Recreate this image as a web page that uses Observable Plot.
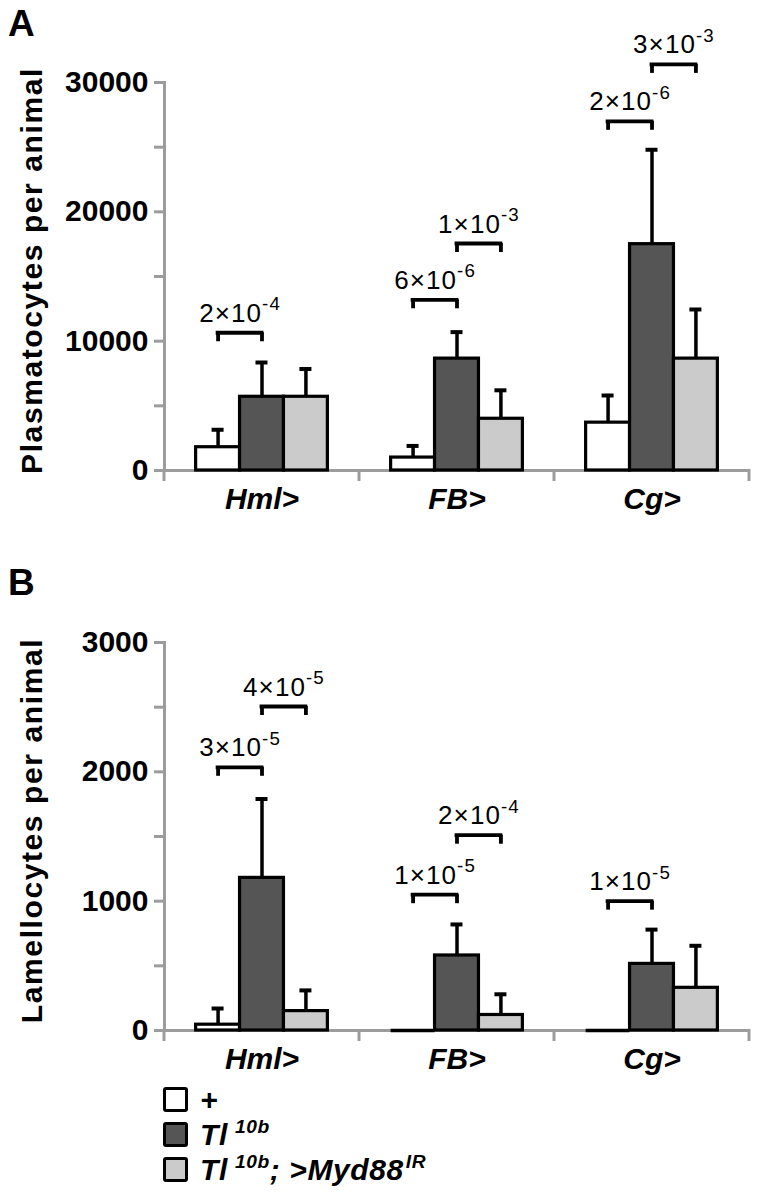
<!DOCTYPE html>
<html>
<head>
<meta charset="utf-8">
<script src="https://cdn.jsdelivr.net/npm/d3@7"></script>
<script src="https://cdn.jsdelivr.net/npm/@observablehq/plot@0.6"></script>
<style>
  body { margin: 0; background: #fff; }
  #wrap { position: relative; width: 757px; height: 1195px; font-family: "Liberation Sans", Arial, Helvetica, sans-serif; color: #000; background: #fff; overflow: hidden; }
  .plabel { position: absolute; left: 8px; font-weight: bold; font-size: 37px; line-height: 1; }
  .chart { position: absolute; left: 0; }
  #legend { position: absolute; left: 163px; top: 1082px; }
  .row { display: flex; align-items: center; height: 35px; }
  .sw { width: 19px; height: 19px; border: 3px solid #000; border-radius: 3px; flex: none; }
  .lab { margin-left: 12px; font-size: 30px; font-weight: bold; font-style: italic; line-height: 1; white-space: nowrap; letter-spacing: 0.6px; }
  .lab sup { font-size: 0.64em; vertical-align: baseline; position: relative; top: -0.6em; margin-left: 7px; }
  .lab sup.tight { margin-left: 2px; }
</style>
</head>
<body>
<div id="wrap">
  <div class="plabel" style="top:5px">A</div>
  <div class="plabel" style="top:564px">B</div>
  <div id="chartA" class="chart" style="top:0px"></div>
  <div id="chartB" class="chart" style="top:560px"></div>
  <div id="legend"></div>
</div>
<script>
// ---------- data ----------
const categories = ["Hml>", "FB>", "Cg>"];
const genotypes = ["+", "Tl10b", "Tl10b; >Myd88IR"];
const genotypeColors = ["#ffffff", "#555555", "#cbcbcb"];
const legendLabels = ["+", "Tl<sup>10b</sup>", "Tl<sup>10b</sup>; &gt;Myd88<sup class=\"tight\">IR</sup>"];

// Panel A: plasmatocytes per animal (mean and SD, per category)
const plasmaLabel = "Plasmatocytes per animal";
const plasmaWT = [1800, 1000, 3700];
const plasmaWTsd = [1350, 900, 2100];
const plasmaTl = [5700, 8650, 17500];
const plasmaTlsd = [2650, 2050, 7300];
const plasmaMyd = [5700, 4000, 8650];
const plasmaMydsd = [2150, 2200, 3800];
const plasmaTicks = [0, 10000, 20000, 30000];
const plasmaMinorTicks = [5000, 15000, 25000];
const plasmaBracketCat = ["Hml>", "FB>", "FB>", "Cg>", "Cg>"];
const plasmaBracketFrom = [0, 0, 1, 0, 1];
const plasmaBracketTo = [1, 1, 2, 1, 2];
const plasmaBracketLevel = [10650, 13200, 17550, 27000, 31400];
const plasmaBracketP = ["2×10^-4", "6×10^-6", "1×10^-3", "2×10^-6", "3×10^-3"];

// Panel B: lamellocytes per animal
const lamLabel = "Lamellocytes per animal";
const lamWT = [45, 0, 0];
const lamWTsd = [125, 0, 0];
const lamTl = [1180, 580, 515];
const lamTlsd = [610, 240, 265];
const lamMyd = [150, 120, 330];
const lamMydsd = [160, 160, 325];
const lamTicks = [0, 1000, 2000, 3000];
const lamMinorTicks = [500, 1500, 2500];
const lamBracketCat = ["Hml>", "Hml>", "FB>", "FB>", "Cg>"];
const lamBracketFrom = [0, 1, 0, 1, 0];
const lamBracketTo = [1, 2, 1, 2, 1];
const lamBracketLevel = [2035, 2505, 1050, 1510, 1000];
const lamBracketP = ["3×10^-5", "4×10^-5", "1×10^-5", "2×10^-4", "1×10^-5"];

// ---------- drawing ----------
const FONT = '"Liberation Sans", Arial, Helvetica, sans-serif';
const GREY = "#9c9c9c";

function panel({label, means, sds, ticks, minorTicks, bCat, bFrom, bTo, bLevel, bP}) {
  const rows = categories.flatMap((c, ci) => genotypes.map((g, gi) => ({
    category: c, genotype: g, gi, value: means[gi][ci], sd: sds[gi][ci]
  })));
  const errRows = rows.filter(d => d.sd > 0);
  const zeroRows = rows.filter(d => d.value === 0);
  const brackets = bCat.map((c, i) => ({category: c, from: bFrom[i], to: bTo[i], level: bLevel[i], p: bP[i]}));
  const legs = brackets.flatMap(b => [{...b, at: b.from}, {...b, at: b.to}]);
  const yMax = ticks[ticks.length - 1];

  const chart = Plot.plot({
    width: 757, height: 540,
    marginLeft: 163, marginRight: 7, marginTop: 82, marginBottom: 70,
    style: {fontFamily: FONT, background: "transparent", overflow: "visible", color: "black"},
    fx: {domain: categories, padding: 0, label: null},
    x: {domain: [-1.22, 3.22], axis: null},
    y: {domain: [0, yMax], axis: null},
    color: {domain: genotypes, range: genotypeColors},
    marks: [
      Plot.ruleY([0], {stroke: GREY, strokeWidth: 3}),
      Plot.frame({anchor: "left", stroke: GREY, strokeWidth: 3, facetAnchor: "left"}),
      Plot.axisY({ticks: minorTicks, tickSize: 10, stroke: GREY, strokeWidth: 3, fill: "none", label: null}),
      Plot.axisY({ticks, tickSize: 10, tickPadding: 6, stroke: GREY, strokeWidth: 3, fill: "black",
        tickFormat: d3.format("d"), fontSize: 30, fontWeight: "bold", label: null}),
      Plot.axisFx({anchor: "bottom", tickSize: 0, tickPadding: 17, fontSize: 30, fontWeight: "bold",
        fontStyle: "italic", fill: "black", label: null}),
      Plot.text([label], {fx: () => categories[0], text: d => d, frameAnchor: "left", textAnchor: "middle",
        lineAnchor: "middle", rotate: -90, dx: -132, dy: -6, fontSize: 30, fontWeight: "bold", fill: "black"}),
      Plot.ruleX(errRows, {fx: "category", x: "gi", y1: "value", y2: d => d.value + d.sd,
        stroke: "black", strokeWidth: 3.5}),
      Plot.ruleY(errRows, {fx: "category", y: d => d.value + d.sd, x1: "gi", x2: "gi",
        insetLeft: -6, insetRight: -6, stroke: "black", strokeWidth: 4}),
      Plot.rect(rows, {fx: "category", x1: d => d.gi - 0.5, x2: d => d.gi + 0.5, y1: () => 0, y2: "value",
        fill: "genotype", stroke: "black", strokeWidth: 3.2}),
      Plot.ruleY(zeroRows, {fx: "category", y: "value", x1: d => d.gi - 0.5, x2: d => d.gi + 0.5,
        stroke: "black", strokeWidth: 3.5}),
      Plot.ruleY(brackets, {fx: "category", y: "level", x1: "from", x2: "to",
        stroke: "black", strokeWidth: 3.8, strokeLinecap: "square"}),
      Plot.ruleX(legs, {fx: "category", x: "at", y1: "level", y2: "level", insetBottom: -9,
        stroke: "black", strokeWidth: 3.8}),
      Plot.text(brackets, {fx: "category", x: d => (d.from + d.to) / 2, y: "level", text: "p",
        dy: -11, lineAnchor: "bottom", fontSize: 26, fill: "black"})
    ]
  });

  const svg = chart.tagName.toLowerCase() === "svg" ? chart : chart.querySelector("svg");
  // category separator ticks below the x axis, at the facet band edges
  const fx = chart.scale("fx"), y = chart.scale("y");
  const y0 = y.apply(0);
  const edges = categories.map(c => fx.apply(c)).concat([fx.apply(categories[categories.length - 1]) + fx.bandwidth]);
  d3.select(svg).append("g").selectAll("line").data(edges).join("line")
    .attr("x1", d => d).attr("x2", d => d).attr("y1", y0 - 1).attr("y2", y0 + 11)
    .attr("stroke", GREY).attr("stroke-width", 3);
  // superscript exponents of p-values, letter spacing of the axis title
  d3.select(svg).selectAll("text").each(function () {
    const t = this.textContent;
    if (t === label) { d3.select(this).attr("letter-spacing", "1.6px"); return; }
    if (!t.includes("^")) return;
    const [base, exp] = t.split("^");
    const s = d3.select(this);
    s.text(null).attr("letter-spacing", "1.1px");
    s.append("tspan").text(base);
    s.append("tspan").attr("dy", "-0.62em").attr("font-size", "0.72em").text(exp);
  });
  return chart;
}

document.getElementById("chartA").append(panel({
  label: plasmaLabel,
  means: [plasmaWT, plasmaTl, plasmaMyd], sds: [plasmaWTsd, plasmaTlsd, plasmaMydsd],
  ticks: plasmaTicks, minorTicks: plasmaMinorTicks,
  bCat: plasmaBracketCat, bFrom: plasmaBracketFrom, bTo: plasmaBracketTo, bLevel: plasmaBracketLevel, bP: plasmaBracketP
}));
document.getElementById("chartB").append(panel({
  label: lamLabel,
  means: [lamWT, lamTl, lamMyd], sds: [lamWTsd, lamTlsd, lamMydsd],
  ticks: lamTicks, minorTicks: lamMinorTicks,
  bCat: lamBracketCat, bFrom: lamBracketFrom, bTo: lamBracketTo, bLevel: lamBracketLevel, bP: lamBracketP
}));

// legend
const legend = d3.select("#legend");
genotypes.forEach((g, i) => {
  const row = legend.append("div").attr("class", "row");
  row.append("div").attr("class", "sw").style("background", genotypeColors[i]);
  row.append("div").attr("class", "lab").html(legendLabels[i]);
});
</script>
</body>
</html>
